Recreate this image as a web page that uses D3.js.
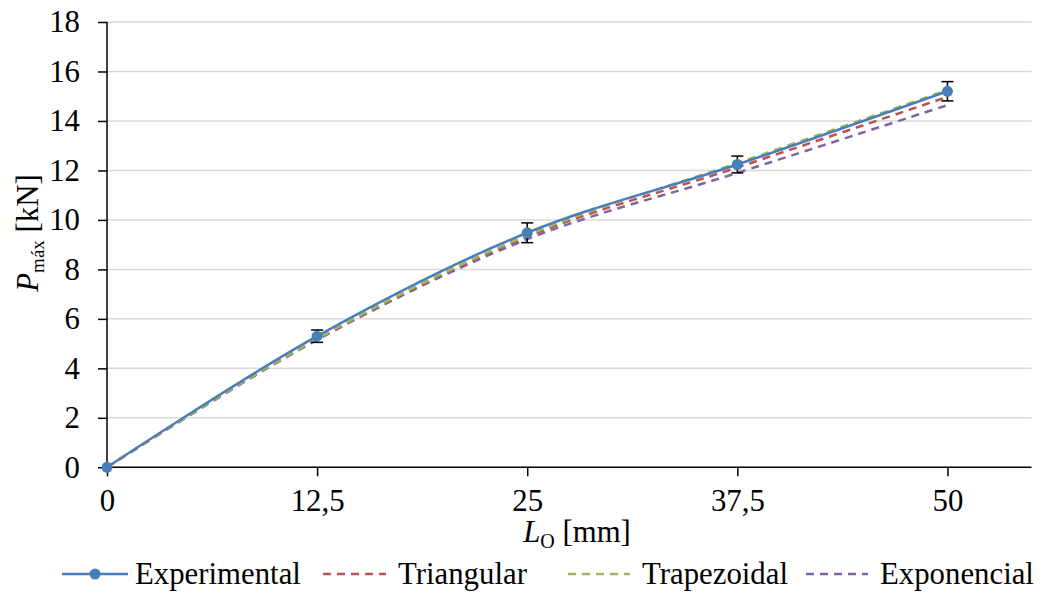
<!DOCTYPE html>
<html>
<head>
<meta charset="utf-8">
<script src="https://cdn.jsdelivr.net/npm/d3@7"></script>
<style>
  html, body { margin: 0; padding: 0; background: #fff; }
  svg { display: block; font-family: "Liberation Serif", "Times New Roman", Times, serif; }
</style>
</head>
<body>
<svg id="chart" width="1059" height="593"></svg>
<script>
// Free length L_O [mm] at which the joints were tested
const lengths = [0, 12.5, 25, 37.5, 50];

// Maximum load P_máx [kN]
const experimental = [0, 5.3, 9.48, 12.24, 15.2];
const experimentalErr = [0, 0.25, 0.4, 0.34, 0.39];
const triangular = [0, 5.18, 9.32, 12.12, 14.97];
const trapezoidal = [0, 5.2, 9.38, 12.3, 15.25];
const exponencial = [0, 5.15, 9.22, 11.9, 14.64];

const xTicks = [0, 12.5, 25, 37.5, 50];
const xTickLabels = ["0", "12,5", "25", "37,5", "50"];
const yTicks = [0, 2, 4, 6, 8, 10, 12, 14, 16, 18];

const seriesNames = ["Experimental", "Triangular", "Trapezoidal", "Exponencial"];
const seriesColors = ["#4a7ebb", "#c0504d", "#9bbb59", "#8064a2"];

const FONT = "'Liberation Serif', 'Times New Roman', Times, serif";
const FS = 30.8;

const svg = d3.select("#chart");
const margin = { left: 107, top: 22, right: 1031.5, bottom: 467.3 };

const x = d3.scaleLinear().domain([0, 55]).range([margin.left, margin.right]);
const y = d3.scaleLinear().domain([0, 18]).range([margin.bottom, margin.top]);

// horizontal gridlines
svg.append("g")
  .selectAll("line")
  .data(yTicks.filter(d => d > 0))
  .join("line")
  .attr("x1", margin.left).attr("x2", margin.right)
  .attr("y1", d => y(d)).attr("y2", d => y(d))
  .attr("stroke", "#d9d9d9").attr("stroke-width", 1.5);

// y axis
const yAxis = svg.append("g")
  .attr("transform", `translate(${margin.left},0)`)
  .call(d3.axisLeft(y).tickValues(yTicks).tickSize(9).tickPadding(18).tickFormat(d3.format("d")));
yAxis.attr("font-family", FONT);
yAxis.select(".domain").attr("stroke", "#000").attr("stroke-width", 1.5).attr("d", `M0,${margin.top}V${margin.bottom}`);
yAxis.selectAll(".tick line").attr("stroke", "#000").attr("stroke-width", 1.5);
yAxis.selectAll(".tick text").attr("font-size", FS).attr("fill", "#000");

// x axis
const xAxis = svg.append("g")
  .attr("transform", `translate(0,${margin.bottom})`)
  .call(d3.axisBottom(x).tickValues(xTicks).tickSize(9).tickPadding(13)
    .tickFormat((d, i) => xTickLabels[i]));
xAxis.attr("font-family", FONT);
xAxis.select(".domain").attr("stroke", "#000").attr("stroke-width", 1.5).attr("d", `M${margin.left},0H${margin.right}`);
xAxis.selectAll(".tick line").attr("stroke", "#000").attr("stroke-width", 1.5);
xAxis.selectAll(".tick text").attr("font-size", FS).attr("fill", "#000");

// smoothed curves
const line = d3.line()
  .x(d => x(d[0])).y(d => y(d[1]))
  .curve(d3.curveCatmullRom.alpha(0.5));

const models = [
  { values: exponencial, color: seriesColors[3] },
  { values: triangular, color: seriesColors[1] },
  { values: trapezoidal, color: seriesColors[2] }
];
models.forEach(m => {
  svg.append("path")
    .datum(lengths.map((l, i) => [l, m.values[i]]))
    .attr("d", line)
    .attr("fill", "none")
    .attr("stroke", m.color)
    .attr("stroke-width", 2.5)
    .attr("stroke-dasharray", "8,6");
});

const expData = lengths.map((l, i) => [l, experimental[i]]);
svg.append("path")
  .datum(expData)
  .attr("d", line)
  .attr("fill", "none")
  .attr("stroke", seriesColors[0])
  .attr("stroke-width", 2.5);

// error bars
const errG = svg.append("g").attr("stroke", "#000").attr("stroke-width", 1.5);
lengths.forEach((l, i) => {
  const e = experimentalErr[i];
  if (!e) return;
  const cx = x(l);
  const y1 = y(experimental[i] + e), y2 = y(experimental[i] - e);
  errG.append("line").attr("x1", cx).attr("x2", cx).attr("y1", y1).attr("y2", y2);
  errG.append("line").attr("x1", cx - 6).attr("x2", cx + 6).attr("y1", y1).attr("y2", y1);
  errG.append("line").attr("x1", cx - 6).attr("x2", cx + 6).attr("y1", y2).attr("y2", y2);
});

// markers
svg.append("g")
  .selectAll("circle")
  .data(expData)
  .join("circle")
  .attr("cx", d => x(d[0])).attr("cy", d => y(d[1]))
  .attr("r", 5.5)
  .attr("fill", seriesColors[0]);

// axis titles
const xTitle = svg.append("text")
  .attr("x", 577).attr("y", 542)
  .attr("text-anchor", "middle")
  .attr("font-size", FS).attr("fill", "#000");
xTitle.append("tspan").attr("font-style", "italic").text("L");
xTitle.append("tspan").attr("font-size", 20).attr("dy", 6).text("O");
xTitle.append("tspan").attr("dy", -6).text(" [mm]");

const yTitle = svg.append("text")
  .attr("transform", "translate(38,233) rotate(-90)")
  .attr("text-anchor", "middle")
  .attr("font-size", FS).attr("fill", "#000");
yTitle.append("tspan").attr("font-style", "italic").text("P");
yTitle.append("tspan").attr("font-size", 19).attr("dy", 6).text("máx");
yTitle.append("tspan").attr("dy", -6).text(" [kN]");

// legend
const legendItems = [
  { name: seriesNames[0], color: seriesColors[0], x0: 62, x1: 128, tx: 135, dashed: false },
  { name: seriesNames[1], color: seriesColors[1], x0: 323, x1: 386, tx: 398, dashed: true },
  { name: seriesNames[2], color: seriesColors[2], x0: 568, x1: 630, tx: 642, dashed: true },
  { name: seriesNames[3], color: seriesColors[3], x0: 806, x1: 868, tx: 880, dashed: true }
];
const ly = 574;
const legend = svg.append("g");
legendItems.forEach(it => {
  legend.append("line")
    .attr("x1", it.x0).attr("x2", it.x1).attr("y1", ly).attr("y2", ly)
    .attr("stroke", it.color).attr("stroke-width", 2.5)
    .attr("stroke-dasharray", it.dashed ? "8,6" : null);
  if (!it.dashed) {
    legend.append("circle").attr("cx", (it.x0 + it.x1) / 2).attr("cy", ly).attr("r", 5.5).attr("fill", it.color);
  }
  legend.append("text")
    .attr("x", it.tx).attr("y", ly + 10)
    .attr("font-size", FS).attr("fill", "#000")
    .text(it.name);
});
</script>
</body>
</html>
